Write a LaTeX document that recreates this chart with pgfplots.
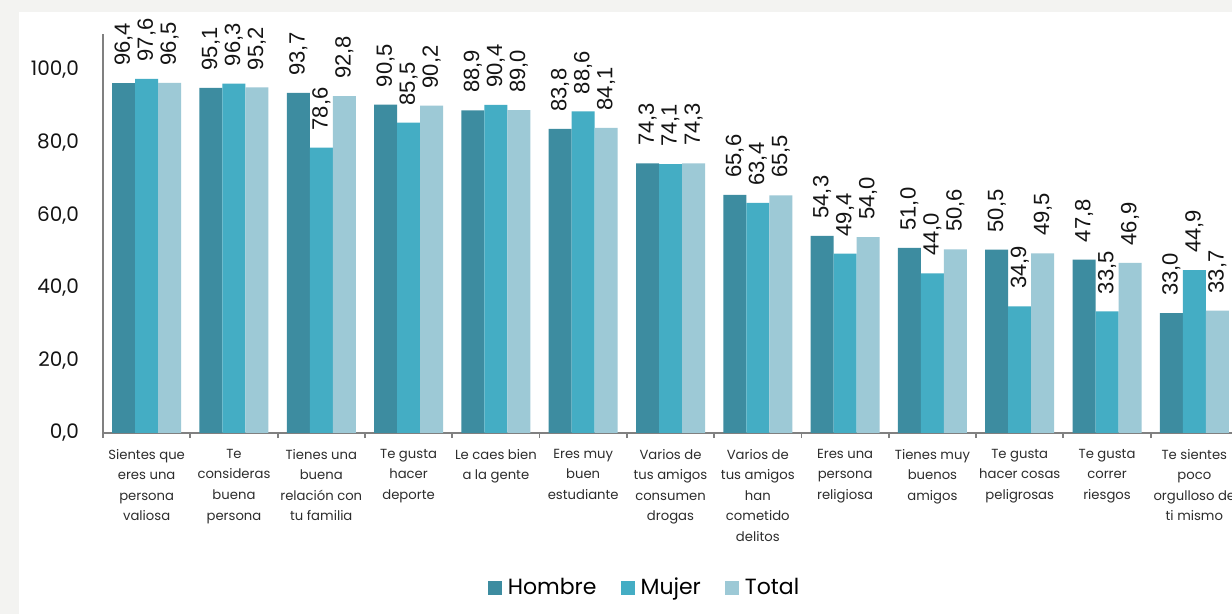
\documentclass[border=0pt]{standalone}
\usepackage{pgfplots}
\pgfplotsset{compat=1.18}
\usepackage{fontspec}
\setmainfont{Poppins}
\newfontfamily\datafont{Liberation Sans}

\definecolor{hombre}{RGB}{61,140,160}
\definecolor{mujer}{RGB}{68,173,196}
\definecolor{total}{RGB}{157,201,214}
\definecolor{axisgray}{RGB}{128,128,128}
\definecolor{bgpanel}{RGB}{243,243,241}
\definecolor{tickblack}{RGB}{20,20,20}
\definecolor{labelgray}{RGB}{45,45,45}

\begin{document}
\begin{tikzpicture}
\useasboundingbox (0,0) rectangle (616pt,307pt);
\fill[bgpanel] (0,0) rectangle (616pt,307pt);
\fill[white] (9.5pt,0) rectangle (616pt,301pt);
\begin{axis}[
  at={(51.5pt,90.5pt)}, anchor=south west,
  scale only axis, width=567.5pt, height=199.6pt,
  ybar=0pt, bar width=11.5pt,
  xmin=-0.5, xmax=12.5, ymin=0, ymax=110,
  axis x line*=bottom, axis y line*=left,
  axis line style={axisgray, line width=0.9pt, -},
  xtick={0,...,12},
  xticklabels={
    {Sientes que\\eres una\\persona\\valiosa},
    {Te\\consideras\\buena\\persona},
    {Tienes una\\buena\\relación con\\tu familia},
    {Te gusta\\hacer\\deporte},
    {Le caes bien\\a la gente},
    {Eres muy\\buen\\estudiante},
    {Varios de\\tus amigos\\consumen\\drogas},
    {Varios de\\tus amigos\\han\\cometido\\delitos},
    {Eres una\\persona\\religiosa},
    {Tienes muy\\buenos\\amigos},
    {Te gusta\\hacer cosas\\peligrosas},
    {Te gusta\\correr\\riesgos},
    {Te sientes\\poco\\orgulloso de\\ti mismo}},
  minor xtick={-0.5,0.5,...,12.5},
  major tick length=0pt, minor tick length=2.6pt,
  tick align=outside,
  minor tick style={axisgray, line width=0.9pt},
  xticklabel style={font=\fontsize{6.6}{10.3}\selectfont, align=center, anchor=north, text=labelgray, yshift=-4.5pt},
  ytick={0,20,...,100},
  yticklabel style={font=\fontsize{10}{12}\selectfont, text=tickblack, xshift=-8.5pt},
  /pgf/number format/fixed,
  /pgf/number format/fixed zerofill,
  /pgf/number format/precision=1,
  /pgf/number format/use comma,
  /pgf/number format/assume math mode=true,
  nodes near coords,
  nodes near coords style={font=\datafont\fontsize{11}{12}\selectfont, rotate=90, anchor=west, inner xsep=8.5pt, inner ysep=0pt, text=tickblack},
  clip=false,
  legend style={at={(0.478,-0.388)}, anchor=center, draw=none, fill=none, legend columns=3,
    font=\fontsize{11}{13}\selectfont, /tikz/every even column/.append style={column sep=10pt}},
  legend image code/.code={\fill[#1] (0pt,-3.5pt) rectangle (7pt,3.5pt); \path (8pt,0pt);},
]
\addplot[fill=hombre, draw=none] coordinates {
  (0,96.4) (1,95.1) (2,93.7) (3,90.5) (4,88.9) (5,83.8) (6,74.3)
  (7,65.6) (8,54.3) (9,51.0) (10,50.5) (11,47.8) (12,33.0)};
\addlegendentry{Hombre}
\addplot[fill=mujer, draw=none] coordinates {
  (0,97.6) (1,96.3) (2,78.6) (3,85.5) (4,90.4) (5,88.6) (6,74.1)
  (7,63.4) (8,49.4) (9,44.0) (10,34.9) (11,33.5) (12,44.9)};
\addlegendentry{Mujer}
\addplot[fill=total, draw=none] coordinates {
  (0,96.5) (1,95.2) (2,92.8) (3,90.2) (4,89.0) (5,84.1) (6,74.3)
  (7,65.5) (8,54.0) (9,50.6) (10,49.5) (11,46.9) (12,33.7)};
\addlegendentry{Total}
\end{axis}
\end{tikzpicture}
\end{document}
